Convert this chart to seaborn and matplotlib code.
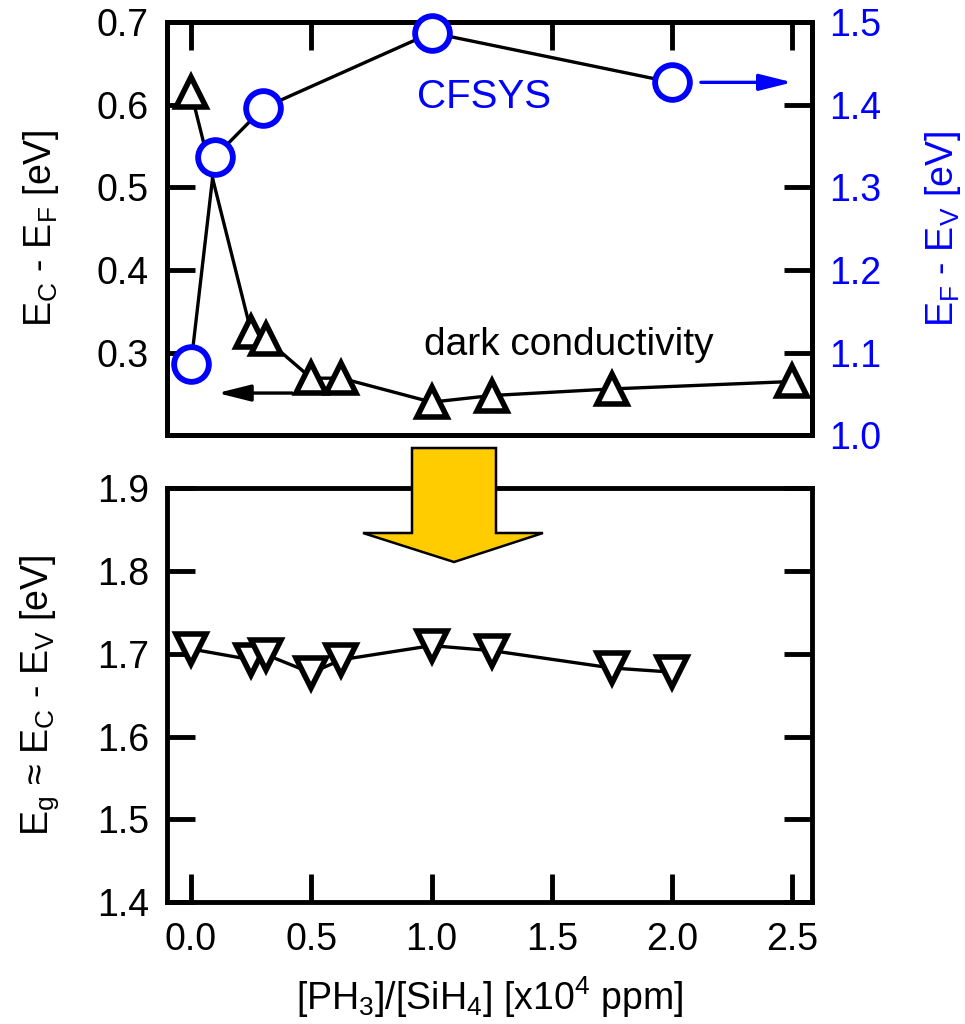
import matplotlib
matplotlib.use("Agg")
import matplotlib.pyplot as plt
from matplotlib.patches import Polygon
import seaborn as sns

# PH3/SiH4 gas ratio (x10^4 ppm) and measured energy levels
x_dark = [0.0, 0.25, 0.3125, 0.5, 0.625, 1.0, 1.25, 1.75, 2.5]
ec_ef_dark = [0.615, 0.325, 0.316, 0.269, 0.269, 0.240, 0.248, 0.256, 0.265]

x_cfsys = [0.0, 0.1, 0.3, 1.0, 2.0]
ef_ev_cfsys = [1.086, 1.337, 1.396, 1.487, 1.427]

x_gap = [0.0, 0.25, 0.3125, 0.5, 0.625, 1.0, 1.25, 1.75, 2.0]
eg_gap = [1.706, 1.693, 1.699, 1.677, 1.693, 1.710, 1.704, 1.683, 1.678]

x_ticks = [0.0, 0.5, 1.0, 1.5, 2.0, 2.5]
x_ticklabels = ["0.0", "0.5", "1.0", "1.5", "2.0", "2.5"]
left_top_ticks = [0.3, 0.4, 0.5, 0.6, 0.7]
right_top_ticks = [1.0, 1.1, 1.2, 1.3, 1.4, 1.5]
bottom_ticks = [1.4, 1.5, 1.6, 1.7, 1.8, 1.9]

sns.set_style("ticks")
plt.rcParams["font.family"] = ["Liberation Sans", "DejaVu Sans"]
plt.rcParams["mathtext.fontset"] = "custom"
plt.rcParams["mathtext.rm"] = "Liberation Sans"
plt.rcParams["mathtext.it"] = "Liberation Sans:italic"
plt.rcParams["mathtext.bf"] = "Liberation Sans:bold"
for key in ("text.color", "axes.labelcolor", "xtick.color", "ytick.color", "axes.edgecolor"):
    plt.rcParams[key] = "black"

BLUE = "#0000FF"
FS = 27
SPINE_W = 3.5
TICK_LEN = 20

fig = plt.figure(figsize=(9.65, 10.24), dpi=100)
ax_top = fig.add_axes([0.173, 0.575, 0.668, 0.4035])
ax_bot = fig.add_axes([0.173, 0.119, 0.668, 0.404])
ax_r = ax_top.twinx()

line_kw = dict(color="black", linewidth=2.4, estimator=None, sort=False,
               markerfacecolor="white", clip_on=False)

# dark conductivity activation energy (left axis)
sns.lineplot(x=x_dark, y=ec_ef_dark, ax=ax_top, marker="^", markersize=22,
             markeredgecolor="black", markeredgewidth=4.0, zorder=3, **line_kw)

# CFSYS Fermi level position (right axis)
sns.lineplot(x=x_cfsys, y=ef_ev_cfsys, ax=ax_r, marker="o", markersize=25,
             markeredgecolor=BLUE, markeredgewidth=4.2, zorder=3, **line_kw)

# optical gap estimate
sns.lineplot(x=x_gap, y=eg_gap, ax=ax_bot, marker="v", markersize=22,
             markeredgecolor="black", markeredgewidth=4.0, zorder=3, **line_kw)

xlim = (-0.1, 2.58)
for ax in (ax_top, ax_r, ax_bot):
    ax.set_xlim(*xlim)
    for sp in ax.spines.values():
        sp.set_linewidth(SPINE_W)
        sp.set_color("black")
        sp.set_visible(True)

ax_top.set_ylim(0.2, 0.7)
ax_r.set_ylim(1.0, 1.5)
ax_bot.set_ylim(1.4, 1.9)

# top panel ticks
ax_top.set_xticks(x_ticks)
ax_top.tick_params(axis="x", which="both", top=True, bottom=False, labelbottom=False,
                   labeltop=False, direction="in", length=TICK_LEN, width=SPINE_W)
ax_top.set_yticks(left_top_ticks)
ax_top.set_yticklabels([f"{v:.1f}" for v in left_top_ticks])
ax_top.tick_params(axis="y", left=True, right=False, direction="in", length=TICK_LEN,
                   width=SPINE_W, labelsize=FS, pad=13)
ax_r.set_yticks(right_top_ticks)
ax_r.set_yticklabels([f"{v:.1f}" for v in right_top_ticks])
ax_r.tick_params(axis="y", right=True, left=False, direction="in", length=TICK_LEN,
                 width=SPINE_W, labelsize=FS, labelcolor=BLUE, pad=13)
ax_r.tick_params(axis="x", top=False, bottom=False, labelbottom=False)

# bottom panel ticks
ax_bot.set_xticks(x_ticks)
ax_bot.set_xticklabels(x_ticklabels)
ax_bot.tick_params(axis="x", bottom=True, top=False, direction="in", length=TICK_LEN,
                   width=SPINE_W, labelsize=FS, pad=14)
ax_bot.set_yticks(bottom_ticks)
ax_bot.set_yticklabels([f"{v:.1f}" for v in bottom_ticks])
ax_bot.tick_params(axis="y", left=True, right=True, labelright=False, direction="in",
                   length=TICK_LEN, width=SPINE_W, labelsize=FS, pad=13)

# axis labels
ax_top.set_xlabel("")
ax_top.set_ylabel(r"E$_\mathregular{C}$ - E$_\mathregular{F}$ [eV]", fontsize=FS, labelpad=26)
ax_r.set_ylabel(r"E$_\mathregular{F}$ - E$_\mathregular{V}$ [eV]", fontsize=FS,
                color=BLUE, labelpad=30)
ax_bot.set_ylabel(r"E$_\mathregular{g}$ ≈ E$_\mathregular{C}$ - E$_\mathregular{V}$ [eV]",
                  fontsize=FS, labelpad=26)
ax_bot.set_xlabel(r"[PH$_\mathregular{3}$]/[SiH$_\mathregular{4}$] [x10$^\mathregular{4}$ ppm]",
                  fontsize=FS, labelpad=12)

# annotations
ax_r.text(1.217, 1.409, "CFSYS", color=BLUE, fontsize=29, ha="center", va="center")
ax_top.text(1.57, 0.309, "dark conductivity", color="black", fontsize=28,
            ha="center", va="center")
arrow_style = "-|>,head_length=1.0,head_width=0.25"
ax_top.annotate("", xy=(0.11, 0.251), xytext=(0.42, 0.251),
                arrowprops=dict(arrowstyle=arrow_style, color="black", lw=2.4,
                                mutation_scale=20, shrinkA=0, shrinkB=0))
ax_r.annotate("", xy=(2.5, 1.427), xytext=(2.12, 1.427),
              arrowprops=dict(arrowstyle=arrow_style, color=BLUE, lw=2.4,
                              mutation_scale=20, shrinkA=0, shrinkB=0))

# large downward arrow between the panels
W, H = 965.0, 1024.0
pts_px = [(412, 448), (496, 448), (496, 533), (543, 533), (454, 562),
          (363, 533), (412, 533)]
pts = [(px / W, 1 - py / H) for px, py in pts_px]
big_arrow = Polygon(pts, closed=True, facecolor="#FFCC00", edgecolor="black",
                    linewidth=1.8, transform=fig.transFigure, zorder=10)
fig.add_artist(big_arrow)

fig.savefig("out.png", dpi=100)
